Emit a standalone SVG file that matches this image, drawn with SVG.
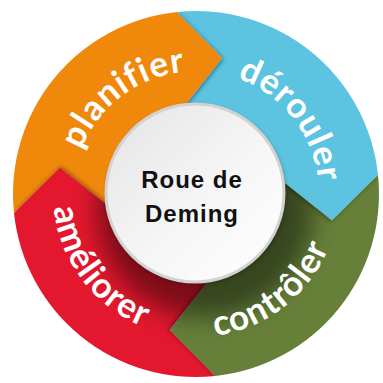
<svg xmlns="http://www.w3.org/2000/svg" width="383" height="383" viewBox="0 0 383 383">
  <defs>
    <style>
      .seg-label { font-family: Lato, "Open Sans", "DejaVu Sans", sans-serif; font-weight: bold; font-size: 35px; fill: #ffffff; }
      .center-label { font-family: "Liberation Sans", Arial, sans-serif; font-weight: bold; font-size: 24px; letter-spacing: 1px; fill: #111111; text-anchor: middle; }
    </style>
    <filter id="tipBlur" x="-30%" y="-30%" width="160%" height="160%">
      <feGaussianBlur stdDeviation="2"/>
    </filter>
    <filter id="discBlur" x="-40%" y="-40%" width="180%" height="180%">
      <feGaussianBlur stdDeviation="12"/>
    </filter>
    <filter id="ringBlur" x="-20%" y="-20%" width="140%" height="140%">
      <feGaussianBlur stdDeviation="2"/>
    </filter>
    <linearGradient id="discFill" x1="0" y1="0" x2="1" y2="1">
      <stop offset="0" stop-color="#e4e4e4"/>
      <stop offset="0.55" stop-color="#f6f6f6"/>
      <stop offset="1" stop-color="#ffffff"/>
    </linearGradient>
    <path id="pOrange" d="M14.0,213.1 A183,183 0 0 1 176.9,12.0 L222.4,58.0 L183.8,106.9 A88,88 0 0 0 108.9,206.2 L60.0,167.6 Z"/>
    <path id="pBlue" d="M176.9,12.0 A183,183 0 0 1 378.0,174.9 L332.0,220.4 L283.1,181.8 A88,88 0 0 0 183.8,106.9 L222.4,58.0 Z"/>
    <path id="pGreen" d="M378.0,174.9 A183,183 0 0 1 215.1,376.0 L169.6,330.0 L208.2,281.1 A88,88 0 0 0 283.1,181.8 L332.0,220.4 Z"/>
    <path id="pRed" d="M215.1,376.0 A183,183 0 0 1 14.0,213.1 L60.0,167.6 L108.9,206.2 A88,88 0 0 0 208.2,281.1 L169.6,330.0 Z"/>
    <clipPath id="cBlue"><use href="#pBlue"/></clipPath>
    <clipPath id="cGreen"><use href="#pGreen"/></clipPath>
    <clipPath id="cRed"><use href="#pRed"/></clipPath>
    <clipPath id="cOrange"><use href="#pOrange"/></clipPath>
    <clipPath id="cLower"><use href="#pGreen"/><use href="#pRed"/></clipPath>
    <path id="tOrange" d="M86.4,249.8 A123,123 0 0 1 279.9,104.1"/>
    <path id="tBlue" d="M138.3,85.4 A123,123 0 0 1 287.4,276.3"/>
    <path id="tGreen" d="M100.3,300.3 A143,143 0 0 0 322.3,126.9"/>
    <path id="tRed" d="M91.5,96.5 A143,143 0 0 0 260.9,321.4"/>
  </defs>

  <g id="planifier">
    <use href="#pOrange" fill="#f0890b"/>
  </g>
  <g id="derouler">
    <use href="#pBlue" fill="#5cc3e0"/>
  </g>
  <g id="controler">
    <use href="#pGreen" fill="#66803a"/>
  </g>
  <g id="ameliorer">
    <use href="#pRed" fill="#e3182e"/>
  </g>

  <g id="connectors">
    <g clip-path="url(#cBlue)">
      <polygon points="176.9,12.0 222.4,58.0 183.8,106.9" fill="#0b3f5a" opacity="0.6" filter="url(#tipBlur)" transform="translate(1,1)"/>
    </g>
    <g clip-path="url(#cGreen)">
      <polygon points="378.0,174.9 332.0,220.4 283.1,181.8" fill="#1d2a0c" opacity="0.5" filter="url(#tipBlur)" transform="translate(-1,1)"/>
    </g>
    <g clip-path="url(#cRed)">
      <polygon points="215.1,376.0 169.6,330.0 208.2,281.1" fill="#3a0a30" opacity="0.6" filter="url(#tipBlur)" transform="translate(-1,-1)"/>
    </g>
    <g clip-path="url(#cOrange)">
      <polygon points="14.0,213.1 60.0,167.6 108.9,206.2" fill="#5a2a05" opacity="0.6" filter="url(#tipBlur)" transform="translate(1,-1)"/>
    </g>
  </g>

  <g clip-path="url(#cLower)">
    <circle cx="205" cy="210" r="108" fill="#000" opacity="0.45" filter="url(#discBlur)"/>
  </g>

  <g class="labels">
    <text class="seg-label" letter-spacing="1"><textPath href="#tOrange" startOffset="50%" text-anchor="middle">planifier</textPath></text>
    <text class="seg-label" letter-spacing="1"><textPath href="#tBlue" startOffset="50%" text-anchor="middle">dérouler</textPath></text>
    <text class="seg-label" letter-spacing="1"><textPath href="#tGreen" startOffset="50%" text-anchor="middle">contrôler</textPath></text>
    <text class="seg-label" letter-spacing="1"><textPath href="#tRed" startOffset="50%" text-anchor="middle">améliorer</textPath></text>
  </g>

  <g id="center">
    <circle cx="196" cy="195" r="90" fill="#000" opacity="0.25" filter="url(#ringBlur)"/>
    <circle cx="195" cy="193" r="89" fill="url(#discFill)" stroke="#d2d2d2" stroke-width="3"/>
    <text class="center-label" x="192" y="188">Roue de</text>
    <text class="center-label" x="192" y="222">Deming</text>
  </g>
</svg>
